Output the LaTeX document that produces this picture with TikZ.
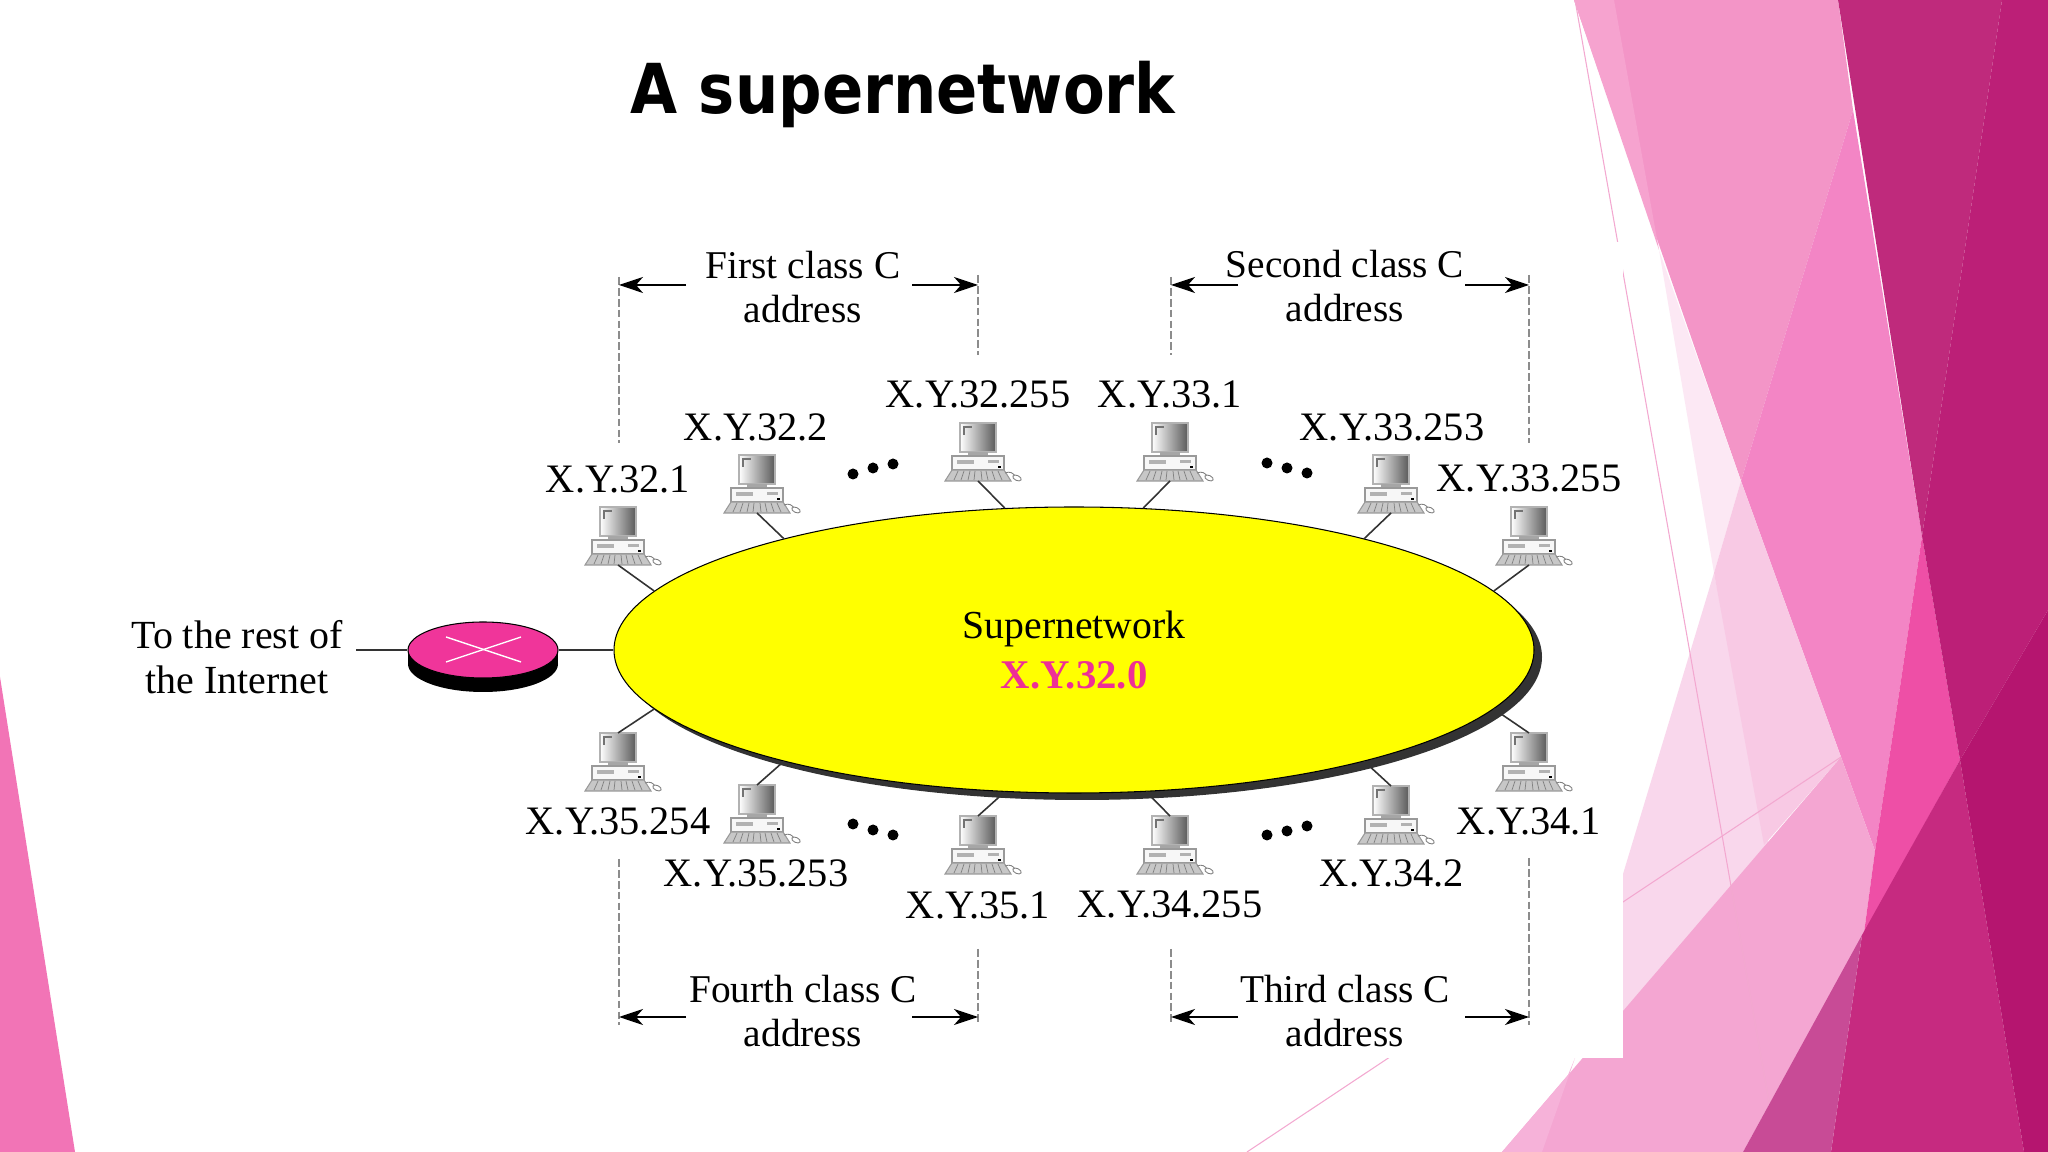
\documentclass[tikz,border=0pt]{standalone}
\usepackage{xcolor}
\usepackage{fontspec}
\setmainfont{Liberation Serif}
\newfontfamily\titlefont[BoldFeatures={FakeStretch=0.883}]{DejaVu Sans}
\usetikzlibrary{shapes.geometric}
\usetikzlibrary{arrows.meta}

\definecolor{toppink}{HTML}{F395C7}
\definecolor{slivpink}{HTML}{F6A3CF}
\definecolor{midpink}{HTML}{F385C5}
\definecolor{lowpink}{HTML}{F4A6D2}
\definecolor{lowlight}{HTML}{F6B2D9}
\definecolor{palepink}{HTML}{F9D7EC}
\definecolor{paleband}{HTML}{F8C9E4}
\definecolor{faintpink}{HTML}{FCE8F4}
\definecolor{hotpink}{HTML}{EE4FA6}
\definecolor{plum}{HTML}{BF2A7C}
\definecolor{deepplum}{HTML}{BC1F77}
\definecolor{darkplum}{HTML}{B5156F}
\definecolor{rosedark}{HTML}{C62A80}
\definecolor{rosegrey}{HTML}{C84B96}
\definecolor{wedgepink}{HTML}{F274B6}
\definecolor{hairpink}{HTML}{F3A8D0}
\definecolor{routerpink}{HTML}{F0359A}
\definecolor{netpink}{HTML}{EE2F96}
\definecolor{netyellow}{RGB}{255,255,0}

\tikzset{
    hostlabel/.style={font=\fontsize{11.5}{13}\selectfont, inner sep=0pt},
    spanlabel/.style={font=\fontsize{11.2}{12.7}\selectfont, align=center, inner sep=0pt},
    guide/.style={dash pattern=on 2.2pt off 0.9pt, color=black!45, line width=0.35pt},
    spanarrow/.style={-{Stealth[length=2.4mm, width=1.6mm, inset=0.7mm]}, line width=0.35pt},
    wire/.style={color=black!80, line width=0.45pt},
    pics/computer/.style={code={
        \draw[color=black!30, line width=0.7pt, left color=white, middle color=black!8, right color=black!65] (-18, 0) rectangle (18, 29);
        \draw[color=black!55, line width=0.3pt] (-14, 12) -- (-14, 4) -- (-6, 4);
        \fill[color=black!35] (-10, 29) rectangle (10, 33);
        \draw[color=black!40, line width=0.4pt, fill=black!3] (-26, 33) rectangle (26, 47);
        \fill[color=black!30] (-21, 37) rectangle (-4, 41);
        \fill[color=black!30] (10, 37) rectangle (21, 40);
        \fill[color=black] (20, 43) rectangle (23, 45);
        \draw[color=black!40, line width=0.3pt, fill=black!22] (-26, 47) -- (26, 47) -- (33, 58) -- (-33, 58) -- cycle;
        \draw[color=black!50, line width=0.2pt] (-20, 48) -- (-24, 57) (-14, 48) -- (-17, 57) (-8, 48) -- (-10, 57)
            (-3, 48) -- (-4, 57) (3, 48) -- (4, 57) (8, 48) -- (10, 57) (14, 48) -- (17, 57) (20, 48) -- (24, 57);
        \draw[color=gray, line width=0.25pt] (27, 50) .. controls (32, 48) and (35, 50) .. (37, 53);
        \draw[color=gray, line width=0.25pt, fill=white, rotate around={-25:(39, 55)}] (39, 55) ellipse (4.5 and 2.5);
        \coordinate (-down) at (0, 58);
        \coordinate (-up) at (0, 0);
    }},
}

\begin{document}
\begin{tikzpicture}[x=0.1mm, y=-0.1mm]
        \useasboundingbox (0, 0) rectangle (2048, 1152);
        \fill[white] (0, 0) rectangle (2048, 1152);

        \fill[toppink] (1574, 0) -- (1838, 0) -- (1853, 110) -- (1741, 481) -- cycle;
        \fill[slivpink] (1574, 0) -- (1614, 0) -- (1659, 250) -- cycle;
        \fill[midpink] (1853, 110) -- (1922, 536) -- (1900, 687) -- (1875, 851) -- (1841, 757) -- (1741, 481) -- cycle;
        \fill[faintpink] (1659, 250) -- (1741, 481) -- (1714, 573) -- cycle;
        \fill[palepink] (1714, 573) -- (1770, 850) -- (1600, 1060) -- (1623, 874) -- cycle;
        \fill[paleband] (1741, 481) -- (1714, 573) -- (1764, 845) -- (1841, 757) -- cycle;
        \fill[lowpink] (1502, 1152) -- (1841, 757) -- (1875, 851) -- (1864, 933) -- (1743, 1152) -- cycle;
        \fill[lowlight] (1502, 1152) -- (1568, 1075) -- (1575, 1058) -- (1542, 1152) -- cycle;
        \fill[hotpink] (1922, 536) -- (1960, 760) -- (1864, 933) -- (1875, 851) -- (1900, 687) -- cycle;
        \fill[plum] (1838, 0) -- (2002, 0) -- (1922, 536) -- cycle;
        \fill[deepplum] (2002, 0) -- (2048, 0) -- (2048, 610) -- (1960, 760) -- (1922, 536) -- cycle;
        \fill[rosedark] (1960, 760) -- (2024, 1152) -- (1831, 1152) -- (1862, 935) -- cycle;
        \fill[rosegrey] (1862, 935) -- (1743, 1152) -- (1831, 1152) -- cycle;
        \fill[darkplum] (1960, 760) -- (2048, 610) -- (2048, 1152) -- (2024, 1152) -- cycle;
        \draw[hairpink, line width=0.3pt] (1575, 0) -- (1769, 1102);
        \draw[hairpink, line width=0.3pt] (1841, 757) -- (1247, 1152);
        \fill[white] (100, 242) rectangle (1623, 1058);
        \fill[wedgepink] (0, 677) -- (75, 1152) -- (0, 1152) -- cycle;

        \node[font=\titlefont\bfseries\fontsize{19.6}{24}\selectfont, inner sep=0pt] (title) at (903, 95) {A supernetwork};

        \node[ellipse, fill=black!80, minimum width=92mm, minimum height=28.6mm, inner sep=0pt] (netshadow) at (1082, 657) {};
        \node[ellipse, draw=black, fill=netyellow, line width=0.3pt, minimum width=92mm, minimum height=28.6mm,
            inner sep=0pt, align=center, font=\fontsize{11.3}{14.2}\selectfont] (net) at (1074, 650)
            {Supernetwork\\ \textcolor{netpink}{\bfseries\fontsize{11.6}{14.2}\selectfont X.Y.32.0}};

        \node[ellipse, fill=black, minimum width=1.5cm, minimum height=0.56cm, inner sep=0pt] (routerbase) at (483, 664) {};
        \fill[black] (408, 650) rectangle (558, 664);
        \node[ellipse, draw=black, fill=routerpink, line width=0.3pt, minimum width=1.5cm, minimum height=0.56cm, inner sep=0pt] (router) at (483, 650) {};
        \coordinate (routerx1) at (446, 637);
        \coordinate (routerx2) at (521, 662);
        \coordinate (routerx3) at (446, 662);
        \coordinate (routerx4) at (521, 637);
        \draw[white, line width=0.4pt] (routerx1) -- (routerx2);
        \draw[white, line width=0.4pt] (routerx3) -- (routerx4);

        \node[spanlabel, font=\fontsize{11.35}{12.7}\selectfont] (rest) at (237, 657) {To the rest of\\the Internet};
        \coordinate (restline) at (356, 650);
        \draw[wire] (restline) -- (router);
        \draw[wire] (router) -- (net);

        \pic (pcone) at (618, 507) {computer};
        \pic (pctwo) at (757, 455) {computer};
        \pic (pcthree) at (978, 423) {computer};
        \pic (pcfour) at (1170, 423) {computer};
        \pic (pcfive) at (1391, 455) {computer};
        \pic (pcsix) at (1529, 507) {computer};
        \pic (pcseven) at (618, 733) {computer};
        \pic (pceight) at (757, 785) {computer};
        \pic (pcnine) at (978, 816) {computer};
        \pic (pcten) at (1170, 816) {computer};
        \pic (pceleven) at (1391, 786) {computer};
        \pic (pctwelve) at (1529, 733) {computer};

        \draw[wire] (pcone-down) -- (net.172);
        \draw[wire] (pctwo-down) -- (net.159);
        \draw[wire] (pcthree-down) -- (net.116);
        \draw[wire] (pcfour-down) -- (net.64);
        \draw[wire] (pcfive-down) -- (net.21);
        \draw[wire] (pcsix-down) -- (net.8);
        \draw[wire] (pcseven-up) -- (net.188);
        \draw[wire] (pceight-up) -- (net.201);
        \draw[wire] (pcnine-up) -- (net.244);
        \draw[wire] (pcten-up) -- (net.297);
        \draw[wire] (pceleven-up) -- (net.339);
        \draw[wire] (pctwelve-up) -- (net.352);

        \node[hostlabel] (hostone) at (618, 479) {X.Y.32.1};
        \node[hostlabel] (hosttwo) at (756, 427) {X.Y.32.2};
        \node[hostlabel] (hostthree) at (978, 394) {X.Y.32.255};
        \node[hostlabel] (hostfour) at (1170, 394) {X.Y.33.1};
        \node[hostlabel] (hostfive) at (1392, 427) {X.Y.33.253};
        \node[hostlabel] (hostsix) at (1529, 478) {X.Y.33.255};
        \node[hostlabel] (hostseven) at (618, 821) {X.Y.35.254};
        \node[hostlabel] (hosteight) at (756, 873) {X.Y.35.253};
        \node[hostlabel] (hostnine) at (978, 905) {X.Y.35.1};
        \node[hostlabel] (hostten) at (1170, 904) {X.Y.34.255};
        \node[hostlabel] (hosteleven) at (1392, 873) {X.Y.34.2};
        \node[hostlabel] (hosttwelve) at (1529, 821) {X.Y.34.1};

        \fill (853, 474) circle (5.5);
        \fill (873, 468) circle (5.5);
        \fill (893, 464) circle (5.5);
        \fill (1267, 463) circle (5.5);
        \fill (1287, 468) circle (5.5);
        \fill (1307, 473) circle (5.5);
        \fill (853, 824) circle (5.5);
        \fill (873, 830) circle (5.5);
        \fill (893, 835) circle (5.5);
        \fill (1267, 835) circle (5.5);
        \fill (1287, 831) circle (5.5);
        \fill (1307, 826) circle (5.5);

        \coordinate (firsta) at (619, 277);
        \coordinate (firstb) at (619, 443);
        \coordinate (firstc) at (978, 275);
        \coordinate (firstd) at (978, 355);
        \coordinate (seconda) at (1171, 277);
        \coordinate (secondb) at (1171, 355);
        \coordinate (secondc) at (1529, 275);
        \coordinate (secondd) at (1529, 443);
        \coordinate (fourtha) at (619, 859);
        \coordinate (fourthb) at (619, 1025);
        \coordinate (fourthc) at (978, 949);
        \coordinate (fourthd) at (978, 1025);
        \coordinate (thirda) at (1171, 949);
        \coordinate (thirdb) at (1171, 1025);
        \coordinate (thirdc) at (1529, 858);
        \coordinate (thirdd) at (1529, 1025);
        \draw[guide] (firsta) -- (firstb);
        \draw[guide] (firstc) -- (firstd);
        \draw[guide] (seconda) -- (secondb);
        \draw[guide] (secondc) -- (secondd);
        \draw[guide] (fourtha) -- (fourthb);
        \draw[guide] (fourthc) -- (fourthd);
        \draw[guide] (thirda) -- (thirdb);
        \draw[guide] (thirdc) -- (thirdd);

        \node[spanlabel] (firstspan) at (803, 287) {First class C\\address};
        \node[spanlabel] (secondspan) at (1345, 286) {Second class C\\address};
        \node[spanlabel] (fourthspan) at (803, 1011) {Fourth class C\\address};
        \node[spanlabel] (thirdspan) at (1345, 1011) {Third class C\\address};

        \coordinate (firstleft) at (619, 285);
        \coordinate (firstright) at (978, 285);
        \coordinate (firstgapa) at (686, 285);
        \coordinate (firstgapb) at (912, 285);
        \coordinate (secondleft) at (1171, 285);
        \coordinate (secondright) at (1529, 285);
        \coordinate (secondgapa) at (1238, 285);
        \coordinate (secondgapb) at (1465, 285);
        \coordinate (fourthleft) at (619, 1017);
        \coordinate (fourthright) at (978, 1017);
        \coordinate (fourthgapa) at (686, 1017);
        \coordinate (fourthgapb) at (912, 1017);
        \coordinate (thirdleft) at (1171, 1017);
        \coordinate (thirdright) at (1529, 1017);
        \coordinate (thirdgapa) at (1238, 1017);
        \coordinate (thirdgapb) at (1465, 1017);
        \draw[spanarrow] (firstgapa) -- (firstleft);
        \draw[spanarrow] (firstgapb) -- (firstright);
        \draw[spanarrow] (secondgapa) -- (secondleft);
        \draw[spanarrow] (secondgapb) -- (secondright);
        \draw[spanarrow] (fourthgapa) -- (fourthleft);
        \draw[spanarrow] (fourthgapb) -- (fourthright);
        \draw[spanarrow] (thirdgapa) -- (thirdleft);
        \draw[spanarrow] (thirdgapb) -- (thirdright);
\end{tikzpicture}
\end{document}
